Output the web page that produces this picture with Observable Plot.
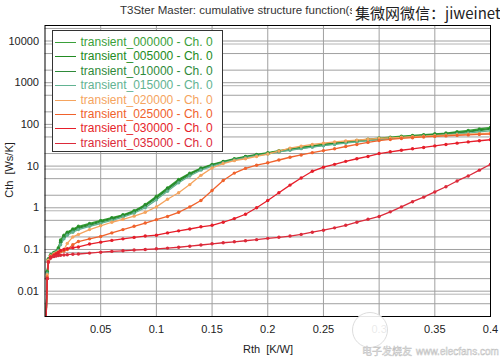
<!DOCTYPE html>
<html><head><meta charset="utf-8">
<script src="https://cdn.jsdelivr.net/npm/d3@7"></script>
<script src="https://cdn.jsdelivr.net/npm/@observablehq/plot@0.6"></script>
<style>
html,body{margin:0;padding:0;background:#fff;}
#wrap{position:relative;width:500px;height:358px;overflow:hidden;font-family:"Liberation Sans",Arial,sans-serif;background:#fff;}
#chart{position:absolute;left:0;top:0;}
#title{position:absolute;left:120px;top:4px;font-size:11.5px;color:#333;white-space:nowrap;}
#wm{position:absolute;left:352px;top:0;width:148px;height:25px;background:#fff;font-family:"Noto Sans CJK SC",sans-serif;font-size:15px;color:#222;line-height:25px;padding-left:3px;box-sizing:border-box;white-space:nowrap;}
#legend{position:absolute;left:51.5px;top:30px;width:171px;height:122px;border:1px solid #333;background:#fff;box-sizing:border-box;}
.li{position:absolute;left:0;height:14px;line-height:14px;font-size:12px;white-space:nowrap;}
.li span.sw{position:absolute;left:2px;top:7px;width:21px;height:0;border-top:1.3px solid;}
.li span.tx{position:absolute;left:28px;top:0;}
#ytitle{position:absolute;left:3px;top:170px;transform-origin:0 0;transform:rotate(-90deg) translate(-50%,0);font-size:11px;color:#222;white-space:nowrap;}
#xtitle{position:absolute;left:268px;top:343px;transform:translateX(-50%);font-size:11px;color:#222;white-space:nowrap;}
#logo{position:absolute;left:352px;top:312px;width:36px;height:36px;border-radius:50%;background:rgba(255,255,255,0.9);border:1px solid #ddd;box-sizing:border-box;}
#wmb{position:absolute;left:362px;top:345px;font-size:10px;line-height:11px;color:#fff;-webkit-text-stroke:0.5px #c0c0c0;white-space:nowrap;}
#wmb .cn{font-family:"Noto Sans CJK SC",sans-serif;margin-right:4px;}
</style></head><body><div id="wrap">
<div id="chart"></div>
<div id="title">T3Ster Master: cumulative structure function(s)</div>
<div id="wm">集微网微信：jiweinet</div>
<div id="legend"></div>
<div id="ytitle">Cth&nbsp;&nbsp;[Ws/K]</div>
<div id="xtitle">Rth&nbsp;&nbsp;[K/W]</div>
<div id="logo"></div>
<div id="wmb"><span class="cn">电子发烧友</span>www.elecfans.com</div>
</div>
<script>
const rth = [0.001,0.002,0.003,0.005,0.008,0.01,0.012,0.014,0.017,0.02,0.025,0.03,0.04,0.05,0.06,0.07,0.08,0.09,0.1,0.11,0.12,0.13,0.14,0.15,0.16,0.17,0.18,0.19,
  0.2,0.21,0.22,0.23,0.24,0.25,0.26,0.27,0.28,0.29,0.3,0.31,0.32,0.33,0.34,0.35,0.36,0.37,0.38,0.39,0.4];

const t000000 = [0.002,0.03,0.06,0.075,0.085,0.09,0.11,0.17,0.22,0.26,0.31,0.36,0.42,0.5,0.58,0.68,0.85,1.2,1.9,3.0,4.8,6.8,9.0,11,13,15,17,19,
  21,23.5,26,28.5,31,33.5,36,38.5,41,44,47,49.5,52,54.5,57,59.5,62,67,72,78,85];
const t005000 = [0.002,0.028,0.058,0.073,0.083,0.09,0.105,0.16,0.21,0.25,0.3,0.34,0.4,0.48,0.56,0.66,0.82,1.15,1.8,2.9,4.6,6.5,8.7,10.7,12.7,14.7,16.7,18.6,
  20.5,22.8,25,27.5,30,32.5,35,37.5,40,42.5,45,47.5,50,52.5,55,57.5,60,64,68,74,80];
const t010000 = [0.002,0.028,0.056,0.072,0.082,0.088,0.1,0.15,0.2,0.24,0.28,0.32,0.38,0.45,0.53,0.63,0.78,1.1,1.7,2.7,4.3,6.2,8.4,10.4,12.4,14.4,16.4,18.3,
  20,22.2,24.5,26.8,29,31.5,34,36.5,39,41.5,44,46.5,49,51.5,54,56.5,59,62.5,66,71,76];
const t015000 = [0.002,0.027,0.055,0.07,0.08,0.087,0.095,0.13,0.18,0.22,0.26,0.3,0.36,0.42,0.5,0.6,0.74,1.0,1.55,2.5,4.0,5.8,8.0,10,12,14,16,17.8,
  19.5,21.8,24,26.2,28.5,30.8,33,35.5,38,40.5,43,45.5,48,50,52,54,56,59,62,66,70];
const t020000 = [0.002,0.025,0.055,0.07,0.078,0.083,0.088,0.093,0.1,0.14,0.2,0.23,0.3,0.37,0.45,0.53,0.63,0.78,1.05,1.6,2.3,3.6,6.0,9.0,11.5,13.5,15,17,
  19.5,23,27,30,33,35.5,38,40,42,44,46,47.5,49,50.5,52,53.5,55,56.5,58,60,62];
const t025000 = [0.002,0.022,0.05,0.068,0.075,0.08,0.084,0.088,0.092,0.1,0.13,0.155,0.18,0.205,0.25,0.3,0.36,0.43,0.52,0.62,0.78,1.05,1.5,2.6,4.5,6.8,8.8,10.5,
  12,14,16.3,18.5,21,23.5,26,29.5,33,37,41,43.5,46,48,50,51.5,53,54.5,56,57.5,59];
const t030000 = [0.002,0.02,0.05,0.065,0.072,0.078,0.085,0.095,0.1,0.105,0.11,0.115,0.135,0.15,0.165,0.18,0.195,0.21,0.22,0.25,0.28,0.31,0.35,0.38,0.45,0.55,0.7,1.0,
  1.5,2.3,3.5,5.2,7.5,9.4,11,13,15,17,20,22,24,26,28,30.5,33,35.5,38,40.5,43];
const t035000 = [0.002,0.02,0.05,0.062,0.068,0.07,0.072,0.073,0.074,0.075,0.077,0.078,0.082,0.086,0.09,0.093,0.097,0.1,0.104,0.108,0.113,0.12,0.128,0.137,0.145,0.153,0.162,0.172,
  0.185,0.196,0.21,0.23,0.26,0.29,0.33,0.38,0.45,0.53,0.62,0.8,1.05,1.4,1.8,2.4,3.2,4.4,5.8,8,11];

const seriesNames = ["transient_000000 - Ch. 0","transient_005000 - Ch. 0","transient_010000 - Ch. 0","transient_015000 - Ch. 0","transient_020000 - Ch. 0","transient_025000 - Ch. 0","transient_030000 - Ch. 0","transient_035000 - Ch. 0"];
const seriesValues = [t000000,t005000,t010000,t015000,t020000,t025000,t030000,t035000];
const seriesColors = ["#3aa03a","#228b22","#2f8a3a","#62b392","#f5a45e","#f0622c","#e61e2a","#dc2a3a"];

const xTicks = [0.05,0.1,0.15,0.2,0.25,0.3,0.35,0.4];
const xTickLabels = ["0.05","0.1","0.15","0.2","0.25","0.3","0.35","0.4"];
const yTicks = [0.01,0.1,1,10,100,1000,10000];
const yTickLabels = ["0.01","0.1","1","10","100","1000","10000"];
const yGrid = [0.005,0.01,0.02,0.05,0.1,0.2,0.5,1,2,5,10,20,50,100,200,500,1000,2000,5000,10000,20000];

const rows = [];
seriesNames.forEach((n,i)=>seriesValues[i].forEach((v,j)=>rows.push({name:n,x:rth[j],y:v})));

const chart = Plot.plot({
  width:500, height:358,
  marginLeft:44.5, marginRight:10, marginTop:25, marginBottom:42,
  style:{fontFamily:"Liberation Sans, Arial, sans-serif", fontSize:"11px", color:"#222", background:"#fff"},
  x:{type:"linear", domain:[0,0.4]},
  y:{type:"log", domain:[0.00247,23550]},
  color:{domain:seriesNames, range:seriesColors},
  marks:[
    Plot.ruleY(yGrid, {stroke:"#a0a0a0", strokeWidth:1}),
    Plot.ruleY(yTicks, {stroke:"#b4b4b4", strokeWidth:1, dy:3}),
    Plot.ruleX(xTicks, {stroke:"#a0a0a0", strokeWidth:1}),
    Plot.line(rows, {x:"x", y:"y", z:"name", stroke:"name", strokeWidth:1.3, clip:true}),
    Plot.dot(rows, {x:"x", y:"y", fill:"name", r:1.7, clip:true}),
    Plot.frame({stroke:"#000", strokeWidth:1}),
    Plot.axisX({ticks:xTicks, tickSize:0, tickPadding:9, tickFormat:(d)=>xTickLabels[xTicks.indexOf(d)], label:null}),
    Plot.axisY({ticks:yTicks, tickSize:0, tickPadding:6, tickFormat:(d)=>yTickLabels[yTicks.indexOf(d)], label:null})
  ]
});
document.getElementById("chart").appendChild(chart);

const lg = document.getElementById("legend");
seriesNames.forEach((n,i)=>{
  const d = document.createElement("div");
  d.className="li";
  d.style.top = (4 + i*14.4)+"px";
  d.style.color = seriesColors[i];
  d.innerHTML = `<span class="sw" style="border-color:${seriesColors[i]}"></span><span class="tx">${n}</span>`;
  lg.appendChild(d);
});
</script>
</body></html>
